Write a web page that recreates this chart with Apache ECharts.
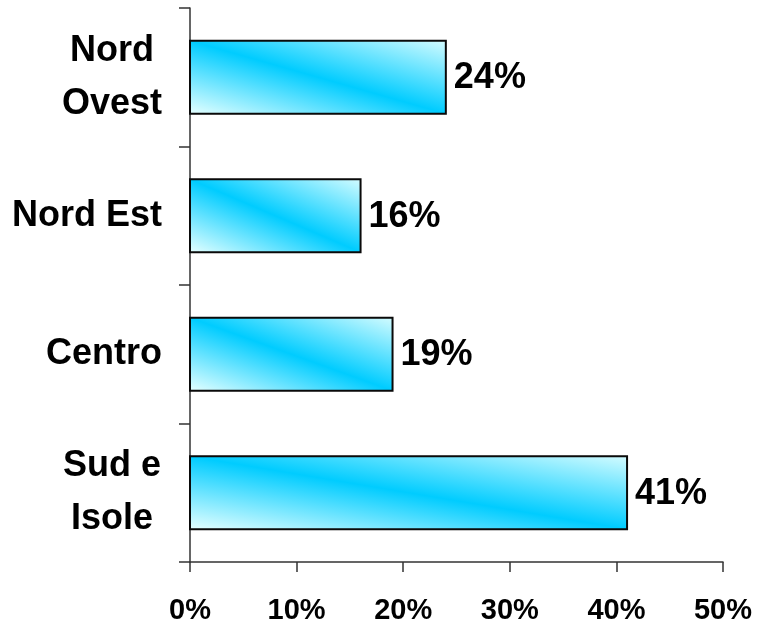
<!DOCTYPE html>
<html>
<head>
<meta charset="utf-8">
<script src="https://cdn.jsdelivr.net/npm/echarts@6/dist/echarts.min.js"></script>
<style>
  html, body { margin: 0; padding: 0; background: #fff; }
  #chart { width: 758px; height: 627px; }
</style>
</head>
<body>
<div id="chart"></div>
<script>
// Regions, top to bottom
const regions = ['Nord\nOvest', 'Nord Est', 'Centro', 'Sud e\nIsole'];
// Share per region (%)
const shares = [24, 16, 19, 41];
// Percentage axis ticks
const axisMin = 0;
const axisMax = 50;
const axisStep = 10;

const FONT = '"Liberation Sans", Arial, sans-serif';

const chart = echarts.init(document.getElementById('chart'), null, { renderer: 'canvas' });

// Bars with a diagonal light-cyan-light gradient whose bands follow the
// rectangle's top-left to bottom-right diagonal.
function renderBar(params, api) {
  const v = api.value(0);
  const idx = api.value(1);
  const p0 = api.coord([0, idx]);
  const p1 = api.coord([v, idx]);
  const band = api.size([0, 1])[1];
  const h = band * 0.527;
  const x0 = p0[0], x1 = p1[0];
  const cy = p0[1];
  const y0 = cy - h / 2;
  const w = x1 - x0;
  const L = Math.sqrt(w * w + h * h);
  const nx = h / L, ny = -w / L;
  const half = w * h / L;
  const cx = x0 + w / 2;
  const grad = new echarts.graphic.LinearGradient(
    cx - nx * half, cy - ny * half, cx + nx * half, cy + ny * half,
    [
      { offset: 0, color: '#e4ffff' },
      { offset: 0.5, color: '#00ccff' },
      { offset: 1, color: '#d2fbff' }
    ],
    true
  );
  return {
    type: 'group',
    children: [
      {
        type: 'rect',
        shape: { x: x0, y: y0, width: w, height: h },
        style: { fill: grad, stroke: '#0a0a0a', lineWidth: 2 }
      },
      {
        type: 'text',
        x: x1 + 8,
        y: cy + 1,
        style: {
          text: v + '%',
          fill: '#000',
          font: 'bold 36px ' + FONT,
          verticalAlign: 'middle',
          align: 'left'
        }
      }
    ]
  };
}

const option = {
  animation: false,
  backgroundColor: '#fff',
  grid: { left: 190, right: 35, top: 8, bottom: 65, containLabel: false, outerBoundsMode: 'none' },
  xAxis: {
    type: 'value',
    min: axisMin,
    max: axisMax,
    interval: axisStep,
    splitLine: { show: false },
    axisLine: { show: true, lineStyle: { color: '#333', width: 1.5 } },
    axisTick: { show: true, length: 10, lineStyle: { color: '#333', width: 1.5 } },
    axisLabel: {
      formatter: '{value}%',
      color: '#000',
      fontFamily: FONT,
      fontWeight: 'bold',
      fontSize: 29,
      margin: 34
    }
  },
  yAxis: {
    type: 'category',
    inverse: true,
    data: regions,
    axisLine: { show: true, lineStyle: { color: '#333', width: 1.5 } },
    axisTick: { show: true, length: 11, lineStyle: { color: '#333', width: 1.5 } },
    axisLabel: {
      color: '#000',
      fontFamily: FONT,
      fontWeight: 'bold',
      fontSize: 36,
      margin: 28,
      align: 'right',
      formatter: function (val) {
        if (val.indexOf('\n') < 0) return val;
        return val.split('\n').map(function (s) { return '{c|' + s + '}'; }).join('\n');
      },
      rich: {
        c: {
          width: 100,
          align: 'center',
          color: '#000',
          fontFamily: FONT,
          fontWeight: 'bold',
          fontSize: 36,
          lineHeight: 53
        }
      }
    }
  },
  series: [{
    type: 'custom',
    renderItem: renderBar,
    encode: { x: 0, y: 1 },
    data: shares.map(function (v, i) { return [v, i]; })
  }]
};

chart.setOption(option);
</script>
</body>
</html>
